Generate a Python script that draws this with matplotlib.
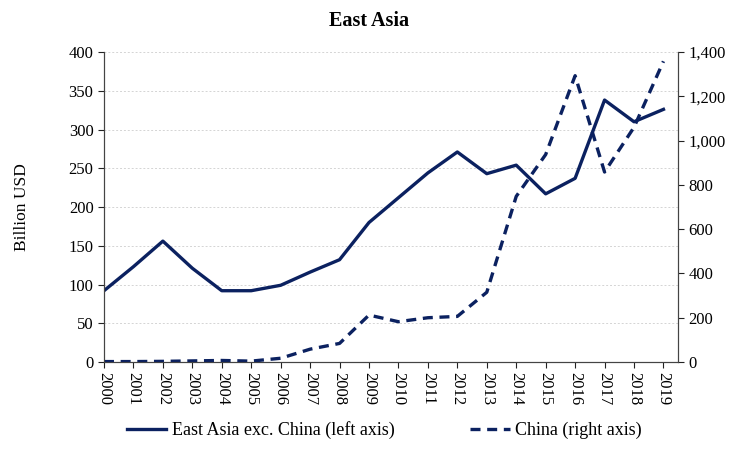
import numpy as np
import matplotlib.pyplot as plt
from matplotlib.ticker import FuncFormatter

years = list(range(2000, 2020))
east_asia = [92, 123, 156, 121, 92, 92, 99, 116, 132, 180,
             212, 244, 271, 243, 254, 217, 237, 338, 310, 326]
china = [2, 2, 3, 5, 7, 4, 17, 58, 84, 212,
         182, 200, 206, 315, 748, 937, 1293, 858, 1060, 1358]

navy = '#0b2160'
plt.rcParams['font.family'] = ['Liberation Serif', 'DejaVu Serif']
plt.rcParams['font.size'] = 12

fig = plt.figure(figsize=(7.39, 4.51), dpi=100)
ax = fig.add_axes([0.1407, 0.1973, 0.777, 0.6874])
ax2 = ax.twinx()

l1, = ax.plot(years, east_asia, color=navy, lw=2.4, label='East Asia exc. China (left axis)')
l2, = ax2.plot(years, china, color=navy, lw=2.4, ls=(0, (3, 2)), label='China (right axis)')

ax.set_xlim(2000, 2019.5)
ax.set_ylim(0, 400)
ax.set_yticks(range(0, 401, 50))
ax2.set_ylim(0, 1400)
ax2.set_yticks(range(0, 1401, 200))
ax2.yaxis.set_major_formatter(FuncFormatter(lambda v, p: f'{int(v):,}'))
ax.set_xticks(years)
ax.set_xticklabels([str(y) for y in years], rotation=-90)

ax.grid(axis='y', color='#d4d4d4', ls=(0, (2, 2)), lw=0.7)
ax.set_axisbelow(True)
for a in (ax, ax2):
    a.spines['top'].set_visible(False)
    a.tick_params(direction='out', length=4, width=0.8, colors='#222222', labelcolor='black')
    for s in a.spines.values():
        s.set_color('#444444')

ax.set_ylabel('Billion USD', fontsize=12.5)
ax.yaxis.set_label_coords(-0.128, 0.5)
fig.suptitle('East Asia', fontsize=14.5, fontweight='bold', y=0.975)

fig.legend(handles=[l1, l2], loc='lower center', ncol=2, frameon=False,
           bbox_to_anchor=(0.52, -0.01), handlelength=2.2, handletextpad=0.3,
           columnspacing=4.2, fontsize=13)

fig.savefig('out.png', dpi=100)
